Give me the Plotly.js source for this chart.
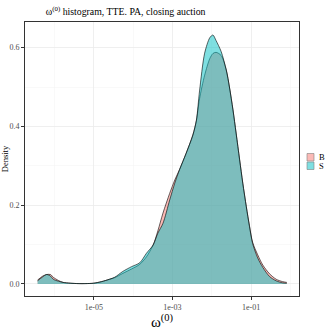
<!DOCTYPE html>
<html>
<head>
<meta charset="utf-8">
<script src="https://cdn.plot.ly/plotly-3.0.1.min.js"></script>
<style>
  html, body { margin: 0; padding: 0; background: #fff; }
  #chart { width: 330px; height: 330px; }
</style>
</head>
<body>
<div id="chart"></div>
<script>
// log10 of omega^(0)
const logOmega = [-6.43, -6.3, -6.2, -6.1, -6.03, -5.9, -5.78, -5.6, -5.4, -5.2, -5.0, -4.8, -4.6, -4.47,
    -4.26, -4.04, -3.83, -3.66, -3.49, -3.37, -3.24, -3.07, -2.94, -2.82, -2.65, -2.48, -2.39, -2.31,
    -2.18, -2.05, -1.97, -1.89, -1.76, -1.63, -1.55, -1.46, -1.38, -1.29, -1.21, -1.12, -1.04, -0.96,
    -0.83, -0.70, -0.53, -0.36, -0.2, -0.09];

// density estimates for buyer (B) and seller (S) initiated
const densityB = [0.010, 0.020, 0.024, 0.024, 0.017, 0.009, 0.004, 0.002, 0.001, 0.001, 0.002, 0.006, 0.012, 0.016,
    0.027, 0.038, 0.050, 0.069, 0.099, 0.135, 0.180, 0.230, 0.264, 0.290, 0.332, 0.378, 0.414, 0.470,
    0.530, 0.572, 0.585, 0.588, 0.580, 0.543, 0.500, 0.442, 0.383, 0.315, 0.256, 0.196, 0.148, 0.106,
    0.074, 0.048, 0.026, 0.012, 0.006, 0.004];
const densityS = [0.008, 0.018, 0.024, 0.020, 0.012, 0.007, 0.004, 0.002, 0.001, 0.001, 0.002, 0.006, 0.012, 0.017,
    0.032, 0.044, 0.054, 0.078, 0.099, 0.129, 0.154, 0.213, 0.256, 0.290, 0.332, 0.378, 0.416, 0.490,
    0.586, 0.625, 0.632, 0.618, 0.590, 0.543, 0.500, 0.442, 0.383, 0.315, 0.256, 0.196, 0.146, 0.103,
    0.066, 0.042, 0.019, 0.008, 0.003, 0.002];

const groups = ['B', 'S'];
const fills = ['rgba(248,118,109,0.5)', 'rgba(0,191,196,0.5)'];
const xTicks = [1e-5, 1e-3, 1e-1];
const xTickText = ['1e-05', '1e-03', '1e-01'];
const xMinor = [1e-6, 1e-4, 1e-2, 1];

const omega = logOmega.map(l => Math.pow(10, l));
const series = [densityB, densityS];

const traces = groups.map((g, i) => ({
    x: omega,
    y: series[i],
    type: 'scatter',
    mode: 'lines',
    name: g,
    fill: 'tozeroy',
    fillcolor: fills[i],
    line: { color: '#000000', width: 0.6, shape: 'spline', smoothing: 0.8 },
    showlegend: false
}));

const font = 'Liberation Serif, DejaVu Serif, serif';

// legend drawn by hand, the panel's right margin is too narrow for plotly's own
const W = 330, H = 330, L = 25, R = 299, T = 22, B = 296;
const px = v => (v - L) / (R - L);
const py = v => (B - v) / (B - T);
const legendShapes = groups.map((g, i) => ({
    type: 'rect', xref: 'paper', yref: 'paper',
    x0: px(307), x1: px(314),
    y0: py(161 + i * 8.5), y1: py(153.5 + i * 8.5),
    fillcolor: fills[i],
    line: { color: '#7f7f7f', width: 0.6 }
}));
const legendLabels = groups.map((g, i) => ({
    xref: 'paper', yref: 'paper',
    x: px(316.5), y: py(157.3 + i * 8.5),
    xanchor: 'left', yanchor: 'middle',
    text: g, showarrow: false,
    font: { family: font, size: 8.5, color: '#000000' }
}));

const layout = {
    width: W,
    height: H,
    margin: { l: L, r: W - R, t: T, b: H - B, autoexpand: false },
    paper_bgcolor: '#ffffff',
    plot_bgcolor: '#ffffff',
    font: { family: font, size: 8, color: '#4d4d4d' },
    title: {
        text: 'ω<sup>(0)</sup> histogram, TTE. PA, closing auction',
        font: { family: font, size: 9.8, color: '#000000' },
        x: 25 / 330, xanchor: 'left', xref: 'paper',
        y: 1 - 12 / 330, yanchor: 'middle'
    },
    xaxis: {
        type: 'log',
        range: [-6.75, 0.22],
        tickvals: xTicks,
        ticktext: xTickText,
        ticks: 'outside',
        ticklen: 3,
        tickcolor: '#333333',
        tickfont: { family: font, size: 8, color: '#4d4d4d' },
        showgrid: true,
        gridcolor: '#ebebeb',
        gridwidth: 0.8,
        minor: { tickvals: xMinor, showgrid: true, gridcolor: '#f3f3f3', gridwidth: 0.5, ticks: '' },
        showline: true,
        linecolor: '#333333',
        linewidth: 1,
        mirror: true,
        zeroline: false,
        title: { text: 'ω<sup>(0)</sup>', font: { family: font, size: 15, color: '#000000' }, standoff: 1 }
    },
    yaxis: {
        range: [-0.0305, 0.665],
        tickvals: [0, 0.2, 0.4, 0.6],
        ticktext: ['0.0', '0.2', '0.4', '0.6'],
        ticks: 'outside',
        ticklen: 3,
        tickcolor: '#333333',
        tickfont: { family: font, size: 8, color: '#4d4d4d' },
        showgrid: true,
        gridcolor: '#ebebeb',
        gridwidth: 0.8,
        minor: { tickvals: [0.1, 0.3, 0.5], showgrid: true, gridcolor: '#f3f3f3', gridwidth: 0.5, ticks: '' },
        showline: true,
        linecolor: '#333333',
        linewidth: 1,
        mirror: true,
        zeroline: false,
        title: { text: 'Density', font: { family: font, size: 8.5, color: '#000000' }, standoff: 3 }
    },
    shapes: legendShapes,
    annotations: legendLabels,
    showlegend: false
};

Plotly.newPlot('chart', traces, layout, { displayModeBar: false, staticPlot: true });
</script>
</body>
</html>
